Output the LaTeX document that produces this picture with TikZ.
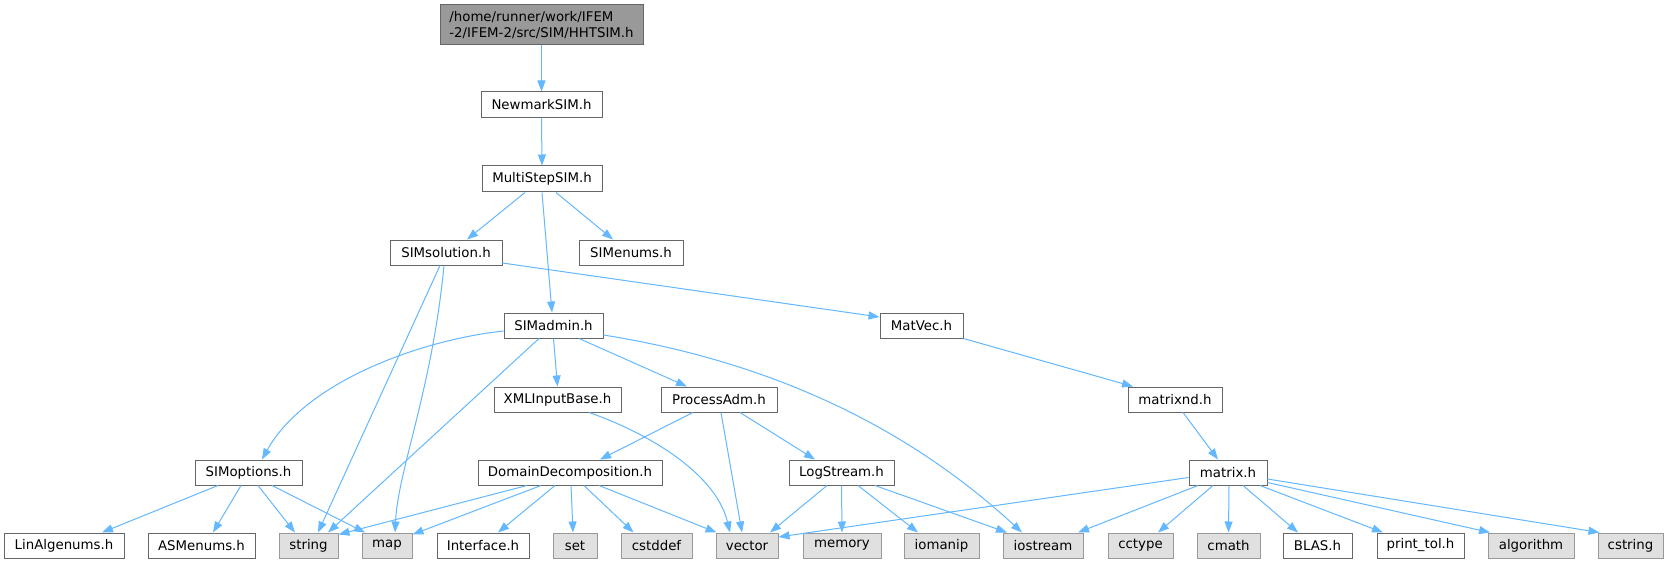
\documentclass[tikz,border=0pt]{standalone}
\usepackage{fontspec}
\setmainfont{DejaVu Sans}
\usetikzlibrary{arrows.meta}
\definecolor{edgec}{HTML}{63B8FF}
\definecolor{wb}{HTML}{666666}
\definecolor{gb}{HTML}{999999}
\definecolor{gf}{HTML}{E0E0E0}
\definecolor{hf}{HTML}{999999}
\begin{document}
\begin{tikzpicture}[x=1pt,y=-1pt,
  box/.style={draw=wb, fill=white, line width=1pt, inner sep=0pt, minimum height=25pt,
    font=\fontsize{13.33}{15.5}\selectfont, text=black},
  sysbox/.style={box, draw=gb, fill=gf},
  rootbox/.style={box, draw=wb, fill=hf},
  edge/.style={draw=edgec, line width=1pt, -{Triangle[length=11pt,width=8pt]}},
]
\useasboundingbox[fill=white] (0,0) rectangle (1670,564);

% nodes
\node[rootbox, minimum width=203pt, minimum height=40pt, align=left] (hht) at (541.5,25)
  {/home/runner/work/IFEM\\-2/IFEM-2/src/SIM/HHTSIM.h};
\node[box, minimum width=121pt, minimum height=26pt] (newmark) at (541.5,105) {NewmarkSIM.h};
\node[box, minimum width=120pt, minimum height=26pt] (multi) at (542,179) {MultiStepSIM.h};
\node[box, minimum width=112pt] (sol) at (446,252.5) {SIMsolution.h};
\node[box, minimum width=104pt] (enums) at (631,252.5) {SIMenums.h};
\node[box, minimum width=99pt] (admin) at (553.5,325.5) {SIMadmin.h};
\node[box, minimum width=83pt] (matvec) at (921.5,325.5) {MatVec.h};
\node[box, minimum width=127pt] (xml) at (557.5,399.5) {XMLInputBase.h};
\node[box, minimum width=116pt] (padm) at (719,399.5) {ProcessAdm.h};
\node[box, minimum width=94pt] (mnd) at (1175,399.5) {matrixnd.h};
\node[box, minimum width=107pt] (opt) at (248.5,472.5) {SIMoptions.h};
\node[box, minimum width=184pt] (dd) at (570,472.5) {DomainDecomposition.h};
\node[box, minimum width=105pt] (log) at (841.5,472.5) {LogStream.h};
\node[box, minimum width=78pt] (mat) at (1228,472.5) {matrix.h};
\node[box, minimum width=120pt] (lin) at (64,545.5) {LinAlgenums.h};
\node[box, minimum width=107pt] (asm) at (201.5,545.5) {ASMenums.h};
\node[sysbox, minimum width=59pt] (str) at (308.5,545.5) {string};
\node[sysbox, minimum width=50pt] (nmap) at (387,545.5) {map};
\node[box, minimum width=92pt] (iface) at (483,545.5) {Interface.h};
\node[sysbox, minimum width=44pt] (nset) at (575,545.5) {set};
\node[sysbox, minimum width=71pt] (cstddef) at (656.5,545.5) {cstddef};
\node[sysbox, minimum width=62pt] (vec) at (747,545.5) {vector};
\node[sysbox, minimum width=78pt] (mem) at (842,545.5) {memory};
\node[sysbox, minimum width=75pt] (ioman) at (941.5,545.5) {iomanip};
\node[sysbox, minimum width=80pt] (iostr) at (1043,545.5) {iostream};
\node[sysbox, minimum width=65pt] (cctype) at (1140.5,545.5) {cctype};
\node[sysbox, minimum width=63pt] (cmath) at (1228.5,545.5) {cmath};
\node[box, minimum width=69pt] (blas) at (1317.5,545.5) {BLAS.h};
\node[box, minimum width=87pt] (ptol) at (1420.5,545.5) {print\_tol.h};
\node[sysbox, minimum width=86pt] (algo) at (1531,545.5) {algorithm};
\node[sysbox, minimum width=65pt] (cstring) at (1630.5,545.5) {cstring};

% edges
\draw[edge] (hht.south) -- (newmark.north);
\draw[edge] (newmark.south) -- (multi.north);
\draw[edge] ([xshift=-17pt]multi.south) -- ([xshift=21pt]sol.north);
\draw[edge] (multi.south) -- ([xshift=-1.5pt]admin.north);
\draw[edge] ([xshift=14pt]multi.south) -- ([xshift=-18pt]enums.north);

\draw[edge] ([xshift=-6pt]sol.south) -- ([xshift=9.5pt]str.north);
\draw[edge] ([xshift=-2pt]sol.south) .. controls (432,390) and (398,470) .. ([xshift=8pt]nmap.north);
\draw[edge] ([yshift=-10.5pt]sol.east) -- ([yshift=8.5pt]matvec.west);

\draw[edge] ([yshift=-5.5pt]admin.west) .. controls (420,340) and (305,382) .. ([xshift=13.5pt]opt.north);
\draw[edge] ([xshift=-14.5pt]admin.south) -- ([xshift=19.5pt]str.north);
\draw[edge] (admin.south) -- (xml.north);
\draw[edge] ([xshift=25.5pt]admin.south) -- ([xshift=-32pt]padm.north);
\draw[edge] ([yshift=-9.5pt]admin.east) .. controls (760,360) and (900,420) .. ([xshift=-21pt]iostr.north);

\draw[edge] (matvec.south east) -- ([xshift=-42pt]mnd.north);
\draw[edge] ([xshift=8pt]mnd.south) -- ([xshift=-10pt]mat.north);

\draw[edge] ([xshift=31.5pt]xml.south) .. controls (640,430) and (715,470) .. ([xshift=-17pt]vec.north);

\draw[edge] ([xshift=-26pt]padm.south) -- ([xshift=30pt]dd.north);
\draw[edge] ([xshift=2pt]padm.south) -- ([xshift=-5pt]vec.north);
\draw[edge] ([xshift=21pt]padm.south) -- ([xshift=-26.5pt]log.north);

\draw[edge] ([xshift=-30.5pt]opt.south) -- ([xshift=38pt]lin.north);
\draw[edge] ([xshift=-7.5pt]opt.south) -- ([xshift=11.5pt]asm.north);
\draw[edge] ([xshift=9.5pt]opt.south) -- ([xshift=-13.5pt]str.north);
\draw[edge] ([xshift=23.5pt]opt.south) -- ([xshift=-22pt]nmap.north);

\draw[edge] ([xshift=-43pt]dd.south) -- ([yshift=-2pt]str.north east);
\draw[edge] ([xshift=-29pt]dd.south) -- ([yshift=-2pt]nmap.north east);
\draw[edge] ([xshift=-15pt]dd.south) -- ([xshift=15pt]iface.north);
\draw[edge] ([xshift=1pt]dd.south) -- ([xshift=-2pt]nset.north);
\draw[edge] ([xshift=14pt]dd.south) -- ([xshift=-23pt]cstddef.north);
\draw[edge] ([xshift=29pt]dd.south) -- ([xshift=1pt]vec.north west);

\draw[edge] ([xshift=-14.5pt]log.south) -- ([xshift=23pt]vec.north);
\draw[edge] (log.south) -- (mem.north);
\draw[edge] ([xshift=16.5pt]log.south) -- ([xshift=-23.5pt]ioman.north);
\draw[edge] ([xshift=33.5pt]log.south) -- ([xshift=-36pt]iostr.north);

\draw[edge] ([yshift=-5pt]mat.west) -- ([yshift=8.5pt]vec.east);
\draw[edge] ([xshift=-30pt]mat.south) -- ([xshift=35pt]iostr.north);
\draw[edge] ([xshift=-15pt]mat.south) -- ([xshift=17.5pt]cctype.north);
\draw[edge] ([xshift=1pt]mat.south) -- (cmath.north);
\draw[edge] ([xshift=15pt]mat.south) -- ([xshift=-19.5pt]blas.north);
\draw[edge] ([xshift=32pt]mat.south) -- ([xshift=-37.5pt]ptol.north);
\draw[edge] ([yshift=-10pt]mat.east) -- ([xshift=-41pt]algo.north);
\draw[edge] ([yshift=-6.5pt]mat.east) -- ([xshift=-31pt]cstring.north);
\end{tikzpicture}
\end{document}
